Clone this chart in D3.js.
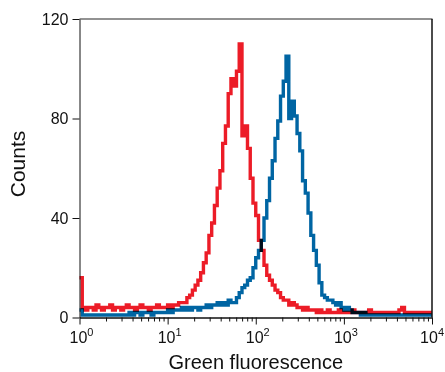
<!DOCTYPE html>
<html>
<head>
<meta charset="utf-8">
<script src="https://cdn.jsdelivr.net/npm/d3@7/dist/d3.min.js"></script>
<style>
  body { margin: 0; background: #fff; }
  svg { display: block; font-family: "Liberation Sans", Arial, Helvetica, sans-serif; }
  .trace { fill: none; stroke-width: 3.4; mix-blend-mode: multiply; }
</style>
</head>
<body>
<figure id="chart" style="margin:0"></figure>
<script>
// 128 log channels, 32 per decade, from 10^0 to 10^4
const channelsPerDecade = 32;

const redCounts = [
  16, 4, 3, 4, 4, 3, 5, 4, 3, 4, 4, 5, 3, 4, 4, 3,
  4, 5, 4, 4, 3, 4, 5, 4, 4, 3, 4, 4, 5, 4, 4, 4,
  5, 4, 5, 5, 6, 6, 6, 8, 9, 11, 13, 15, 18, 22, 26, 33,
  38, 45, 52, 59, 70, 77, 90, 96, 93, 99, 110, 73, 77, 68, 56, 46,
  41, 31, 27, 21, 17, 15, 13, 11, 10, 8, 7, 7, 5, 6, 5, 4,
  4, 3, 4, 3, 3, 3, 2, 3, 2, 2, 3, 2, 2, 2, 3, 2,
  2, 2, 2, 3, 2, 2, 2, 2, 2, 3, 2, 2, 2, 2, 2, 2,
  2, 2, 2, 2, 3, 4, 2, 2, 2, 2, 2, 2, 2, 2, 2, 2
];

const blueCounts = [
  3, 1, 1, 1, 1, 1, 1, 1, 1, 1, 1, 1, 1, 1, 1, 1,
  1, 1, 2, 1, 2, 2, 1, 2, 2, 2, 1, 2, 2, 2, 2, 2,
  3, 2, 3, 3, 3, 4, 3, 4, 3, 4, 4, 3, 4, 4, 5, 4,
  5, 5, 6, 5, 6, 5, 7, 6, 6, 8, 10, 12, 13, 15, 16, 20,
  24, 27, 31, 40, 47, 56, 63, 72, 79, 89, 95, 105, 80, 87, 81, 74,
  67, 55, 50, 42, 33, 27, 21, 14, 9, 8, 7, 7, 6, 5, 6, 4,
  3, 4, 3, 2, 2, 2, 1, 2, 1, 1, 1, 1, 1, 1, 1, 1,
  1, 1, 1, 1, 1, 1, 1, 1, 1, 1, 1, 1, 1, 1, 1, 1
];

const yTicks = [0, 40, 80, 120];
const xDecades = [0, 1, 2, 3, 4];
const xLabel = "Green fluorescence";
const yLabel = "Counts";

const width = 445, height = 372;
const plotLeft = 79.5, plotRight = 432, plotTop = 19, plotBottom = 317.5;

const svg = d3.select("#chart").append("svg")
  .attr("width", width)
  .attr("height", height);

const x = d3.scaleLog().domain([1, 1e4]).range([plotLeft, plotRight]);
const y = d3.scaleLinear().domain([0, 120]).range([plotBottom, plotTop]);

function toPoints(counts) {
  const pts = counts.map((c, i) => [Math.pow(10, i / channelsPerDecade), c]);
  pts.push([1e4, counts[counts.length - 1]]);
  return pts;
}

const line = d3.line()
  .x(d => x(d[0]))
  .y(d => y(d[1]))
  .curve(d3.curveStepAfter);

const traces = svg.append("g").attr("class", "traces");
traces.append("path")
  .attr("class", "trace")
  .attr("stroke", "#0065a3")
  .attr("d", line(toPoints(blueCounts)));
traces.append("path")
  .attr("class", "trace")
  .attr("stroke", "#ec1c27")
  .attr("d", line(toPoints(redCounts)));

// frame: grey top, black right
svg.append("line")
  .attr("x1", plotLeft).attr("x2", plotRight + 0.5)
  .attr("y1", plotTop).attr("y2", plotTop)
  .attr("stroke", "#6e6e6e").attr("stroke-width", 1.5);
svg.append("line")
  .attr("x1", plotRight).attr("x2", plotRight)
  .attr("y1", plotTop).attr("y2", plotBottom)
  .attr("stroke", "#111").attr("stroke-width", 1.5);

// y axis
const yAxis = svg.append("g")
  .attr("transform", "translate(" + plotLeft + ",0)")
  .call(d3.axisLeft(y).tickValues(yTicks).tickSize(7).tickPadding(4).tickSizeOuter(0));
yAxis.selectAll("text")
  .attr("font-size", 16)
  .attr("font-family", "Liberation Sans, Arial, sans-serif")
  .attr("fill", "#111");

// x axis minor ticks
const minor = [];
for (let d = 0; d < 4; d++) {
  for (let k = 2; k <= 9; k++) minor.push(k * Math.pow(10, d));
}
svg.append("g")
  .attr("transform", "translate(0," + plotBottom + ")")
  .call(d3.axisBottom(x).tickValues(minor).tickSize(4).tickFormat("").tickSizeOuter(0));

// x axis major ticks
svg.append("g")
  .attr("transform", "translate(0," + plotBottom + ")")
  .call(d3.axisBottom(x).tickValues(xDecades.map(d => Math.pow(10, d)))
    .tickSize(7).tickFormat("").tickSizeOuter(0));

svg.selectAll(".domain, .tick line").attr("stroke", "#111");

const labels = svg.append("g").attr("fill", "#111");
xDecades.forEach(d => {
  const t = labels.append("text")
    .attr("x", x(Math.pow(10, d)) + 2)
    .attr("y", 343)
    .attr("text-anchor", "middle")
    .attr("font-size", 16);
  t.append("tspan").text("10");
  t.append("tspan").attr("dy", -7).attr("font-size", 11).text(d);
  // keep the last label inside the window
  const w = t.node().getComputedTextLength();
  const cx = +t.attr("x");
  if (cx + w / 2 > width - 1) t.attr("x", width - 1 - w / 2);
});

svg.append("text")
  .attr("x", (plotLeft + plotRight) / 2)
  .attr("y", 369)
  .attr("text-anchor", "middle")
  .attr("font-size", 20)
  .attr("fill", "#111")
  .text(xLabel);

svg.append("text")
  .attr("transform", "translate(25," + 164 + ") rotate(-90)")
  .attr("text-anchor", "middle")
  .attr("font-size", 21)
  .attr("fill", "#111")
  .text(yLabel);
</script>
</body>
</html>
